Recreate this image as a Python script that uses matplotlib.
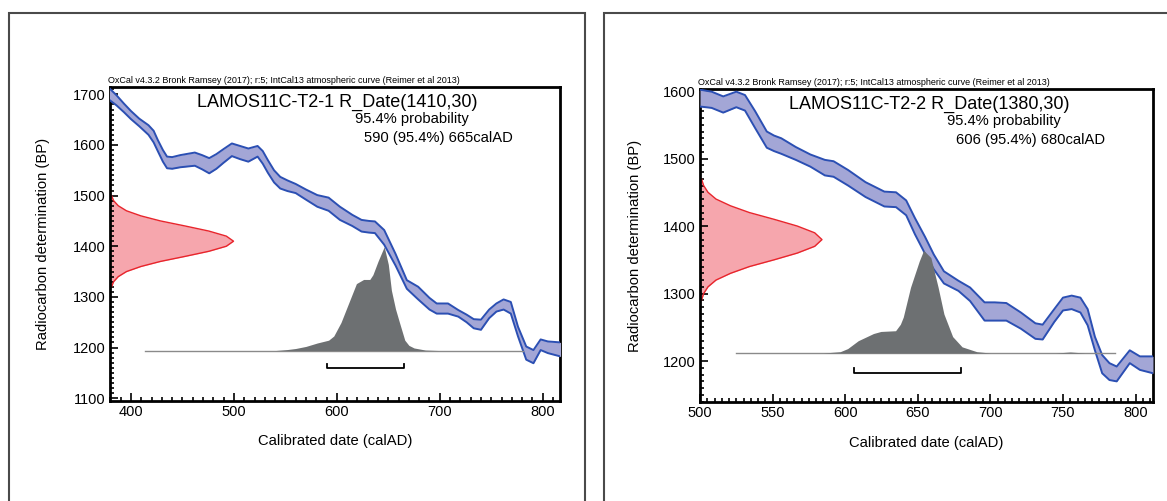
import matplotlib
matplotlib.use('Agg')
import matplotlib.pyplot as plt
from matplotlib.patches import Rectangle
from matplotlib.ticker import MultipleLocator

plt.rcParams['font.family'] = ['Liberation Sans', 'DejaVu Sans']

header = 'OxCal v4.3.2 Bronk Ramsey (2017); r:5; IntCal13 atmospheric curve (Reimer et al 2013)'

# ---- panel 1: LAMOS11C-T2-1 ----
title_1 = 'LAMOS11C-T2-1 R_Date(1410,30)'
range_text_1 = '590 (95.4%) 665calAD'
range_1 = [590, 665]

# radiocarbon date curve (BP levels, width read in calAD units)
red_y_1 = [1320, 1330, 1340, 1350, 1360, 1370, 1380, 1390, 1400, 1410,
           1420, 1430, 1440, 1450, 1460, 1470, 1480, 1490, 1500]
red_w_1 = [1.5, 3.5, 8, 16, 30, 49, 73, 96, 113, 120,
           113, 96, 73, 49, 30, 16, 8, 3.5, 1.5]

# IntCal13 band
cal_x_1 = [379, 386, 393, 400, 408, 417, 422, 426, 431, 435, 440, 448, 462, 469, 476, 483, 490,
           498, 506, 514, 523, 528, 533, 539, 545, 552, 560, 570, 581, 592, 603, 615, 624,
           631, 637, 646, 657, 668, 679, 690, 697, 708, 718, 726, 733, 740, 748, 755, 762,
           769, 776, 784, 791, 798, 805, 818]
cal_hi_1 = [1712, 1698, 1682, 1667, 1652, 1639, 1628, 1610, 1590, 1577, 1576, 1580, 1585, 1580,
            1574, 1582, 1592, 1603, 1598, 1593, 1598, 1588, 1570, 1550, 1537, 1530, 1523, 1512,
            1501, 1496, 1478, 1462, 1452, 1450, 1449, 1432, 1385, 1333, 1320, 1298, 1287, 1287,
            1274, 1265, 1256, 1255, 1275, 1287, 1295, 1290, 1241, 1202, 1195, 1216, 1212, 1210]
cal_lo_1 = [1689, 1678, 1665, 1651, 1637, 1620, 1605, 1588, 1567, 1554, 1553, 1556, 1559, 1552,
            1544, 1553, 1565, 1578, 1572, 1567, 1577, 1563, 1545, 1526, 1514, 1509, 1505, 1492,
            1478, 1470, 1452, 1440, 1429, 1427, 1426, 1403, 1362, 1316, 1295, 1275, 1267, 1267,
            1261, 1250, 1238, 1235, 1258, 1271, 1275, 1267, 1222, 1176, 1169, 1195, 1189, 1182]

# calibrated probability (relative)
prob_x_1 = [540, 552, 560, 570, 581, 592, 597, 604, 610, 619, 626, 632, 635, 640,
            646, 650, 653, 657, 661, 666, 670, 675, 686, 700]
prob_1 = [0, 0.01, 0.02, 0.04, 0.073, 0.10, 0.14, 0.27, 0.42, 0.645, 0.685, 0.685, 0.73, 0.86,
          1.0, 0.83, 0.58, 0.40, 0.265, 0.10, 0.05, 0.025, 0.005, 0]

# ---- panel 2: LAMOS11C-T2-2 ----
title_2 = 'LAMOS11C-T2-2 R_Date(1380,30)'
range_text_2 = '606 (95.4%) 680calAD'
range_2 = [606, 680]

red_y_2 = [1290, 1300, 1310, 1320, 1330, 1340, 1350, 1360, 1370, 1380,
           1390, 1400, 1410, 1420, 1430, 1440, 1450, 1460, 1470]
red_w_2 = [1, 2.5, 5.5, 11, 21, 34, 51, 67, 79, 84,
           79, 67, 51, 34, 21, 11, 5.5, 2.5, 1]

cal_x_2 = [500, 508, 516, 525, 531, 538, 546, 551, 556, 566, 576, 586, 592, 602, 614,
           627, 635, 642, 648, 655, 661, 668, 678, 686, 696, 703, 711, 721, 731, 736, 744,
           750, 756, 762, 767, 772, 777, 782, 787, 796, 803, 812]
cal_hi_2 = [1602, 1599, 1592, 1599, 1594, 1570, 1540, 1534, 1530, 1517, 1506, 1498, 1496, 1483,
            1465, 1451, 1450, 1438, 1412, 1384, 1358, 1333, 1319, 1309, 1287, 1287, 1286, 1272,
            1256, 1254, 1277, 1294, 1297, 1294, 1277, 1236, 1209, 1197, 1192, 1216, 1207, 1207]
cal_lo_2 = [1577, 1575, 1568, 1576, 1571, 1545, 1516, 1511, 1507, 1498, 1488, 1475, 1473, 1460,
            1443, 1429, 1428, 1416, 1388, 1359, 1336, 1315, 1304, 1289, 1260, 1260, 1260, 1248,
            1233, 1232, 1258, 1275, 1277, 1272, 1253, 1216, 1182, 1172, 1170, 1197, 1187, 1182]

prob_x_2 = [585, 596.6, 601.7, 609, 619.5, 624.6, 634.7, 638, 640, 645, 651, 654, 659, 664,
            668, 674, 680.5, 690.6, 700, 745, 755, 765]
prob_2 = [0, 0.013, 0.043, 0.12, 0.19, 0.21, 0.217, 0.28, 0.35, 0.64, 0.895, 1.0, 0.93, 0.64,
          0.38, 0.16, 0.06, 0.013, 0, 0, 0.01, 0]


def draw_panel(ax, xlim, ylim, xmajor, xminor, title, range_text, rng,
               red_y, red_w, cal_x, cal_hi, cal_lo, prob_x, prob, base, peak,
               base_x, bar_y, ylab_x, xlab_y):
    x0 = xlim[0]
    # radiocarbon date
    ax.fill_betweenx(red_y, x0, [x0 + w for w in red_w], color='#f6a6ad', lw=0, zorder=1)
    ax.plot([x0 + w for w in red_w], red_y, color='#e8252c', lw=1.0, zorder=2)
    # calibration curve
    ax.fill_between(cal_x, cal_lo, cal_hi, color='#a3a6d6', lw=0, zorder=3)
    ax.plot(cal_x, cal_hi, color='#2b4fb3', lw=1.4, zorder=4)
    ax.plot(cal_x, cal_lo, color='#2b4fb3', lw=1.4, zorder=4)
    # calibrated distribution
    ax.plot(base_x, [base, base], color='#8a8a8a', lw=1.0, zorder=5)
    ax.fill_between(prob_x, base, [base + p * peak for p in prob], color='#6d7072', lw=0, zorder=6)
    # 95.4% range bracket
    ax.plot([rng[0], rng[0], rng[1], rng[1]], [bar_y + 8, bar_y, bar_y, bar_y + 8],
            color='black', lw=1.3, zorder=6)

    ax.set_xlim(xlim)
    ax.set_ylim(ylim)
    ax.xaxis.set_major_locator(MultipleLocator(xmajor))
    ax.xaxis.set_minor_locator(MultipleLocator(xminor))
    ax.yaxis.set_major_locator(MultipleLocator(100))
    ax.yaxis.set_minor_locator(MultipleLocator(10))
    ax.tick_params(which='both', direction='in', labelsize=10.5, width=1.2, pad=3)
    ax.tick_params(which='major', length=6)
    ax.tick_params(which='minor', length=3)
    for s in ax.spines.values():
        s.set_linewidth(2.0)

    ax.set_xlabel('Calibrated date (calAD)', fontsize=10.6)
    ax.set_ylabel('Radiocarbon determination (BP)', fontsize=10.6)
    ax.xaxis.set_label_coords(0.5, xlab_y)
    ax.yaxis.set_label_coords(ylab_x, 0.5)

    ax.text(-0.004, 1.006, header, transform=ax.transAxes, fontsize=6.5,
            ha='left', va='bottom')
    ax.text(0.505, 0.95, title, transform=ax.transAxes, fontsize=13,
            ha='center', va='center')
    ax.text(0.545, 0.897, '95.4% probability', transform=ax.transAxes,
            fontsize=10.6, ha='left', va='center')
    ax.text(0.565, 0.836, range_text, transform=ax.transAxes,
            fontsize=10.6, ha='left', va='center')


fig = plt.figure(figsize=(11.67, 5.01), dpi=100)

# outer frames of the two panels
fig.patches.append(Rectangle((9 / 1167, -0.1), 576 / 1167, 1.1 - 13 / 501,
                             transform=fig.transFigure, fill=False,
                             ec='#4a4a4a', lw=1.5))
fig.patches.append(Rectangle((604 / 1167, -0.1), 0.6, 1.1 - 13 / 501,
                             transform=fig.transFigure, fill=False,
                             ec='#4a4a4a', lw=1.5))

ax1 = fig.add_axes([110 / 1167, 0.2002, 450 / 1167, 0.6267])
draw_panel(ax1, (379.6, 816.8), (1095, 1715), 100, 10, title_1, range_text_1, range_1,
           red_y_1, red_w_1, cal_x_1, cal_hi_1, cal_lo_1, prob_x_1, prob_1,
           1194, 205, [414, 781], 1159, -0.133, -0.106)

ax2 = fig.add_axes([700 / 1167, 0.197, 453 / 1167, 0.6254])
draw_panel(ax2, (500, 812), (1139, 1603), 50, 5, title_2, range_text_2, range_2,
           red_y_2, red_w_2, cal_x_2, cal_hi_2, cal_lo_2, prob_x_2, prob_2,
           1212, 152, [525, 786], 1182, -0.128, -0.108)

fig.savefig('out.png', dpi=100)
